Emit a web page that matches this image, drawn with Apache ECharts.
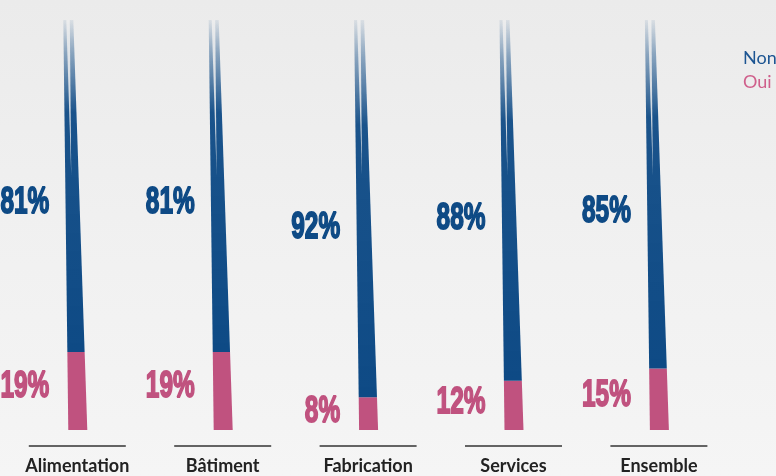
<!DOCTYPE html>
<html>
<head>
<meta charset="utf-8">
<script src="https://cdn.jsdelivr.net/npm/echarts@6/dist/echarts.min.js"></script>
<style>
  html, body { margin: 0; padding: 0; }
  #chart {
    width: 776px; height: 476px;
    background: linear-gradient(to bottom, #ebebeb 0%, #f0f0f0 45%, #f5f5f5 100%);
  }
</style>
</head>
<body>
<div id="chart"></div>
<script>
// Categories and shares (%)
var categories = ['Alimentation', 'Bâtiment', 'Fabrication', 'Services', 'Ensemble'];
var ouiValues = [19, 19, 8, 12, 15];
var nonValues = [81, 81, 92, 88, 85];

var BLUE = '#0e4a85';
var PINK = '#c0527f';
var BG = '#eeeeee';

var chart = echarts.init(document.getElementById('chart'));

// Edges of a brush-stroke bar: wide at the base, narrowing and leaning left toward the top
function leftEdge(c, t) { return c - 9 - 5 * t; }
function rightEdge(c, t) { return c + 10 - 14 * t; }

function strokePoints(api, idx, v0, v1) {
  var p0 = api.coord([idx, v0]);
  var p1 = api.coord([idx, v1]);
  var c = p0[0];
  var t0 = v0 / 100, t1 = v1 / 100;
  return [
    [leftEdge(c, t0), p0[1]],
    [rightEdge(c, t0), p0[1]],
    [rightEdge(c, t1), p1[1]],
    [leftEdge(c, t1), p1[1]]
  ];
}

// Condensed heavy percentage label, right-aligned against the stroke
function pctLabel(x, y, text, color) {
  return {
    type: 'text',
    x: x, y: y,
    scaleX: 0.66,
    style: {
      text: text,
      fill: color,
      stroke: color,
      lineWidth: 1.8,
      font: 'bold 37px "Liberation Sans", Arial, sans-serif',
      textAlign: 'right',
      textVerticalAlign: 'middle'
    }
  };
}

function renderOui(params, api) {
  var idx = api.value(0);
  var oui = api.value(1);
  var base = api.coord([idx, 0]);
  var c = base[0];
  var labelPos = api.coord([idx, oui * 0.55]);
  return {
    type: 'group',
    children: [
      { type: 'polygon', shape: { points: strokePoints(api, idx, 0, oui) }, style: { fill: PINK } },
      pctLabel(c - 28, labelPos[1], oui + '%', PINK),
      { type: 'line', shape: { x1: c - 48.5, y1: base[1] + 16, x2: c + 48.5, y2: base[1] + 16 },
        style: { stroke: '#333333', lineWidth: 1.4 } }
    ]
  };
}

function renderNon(params, api) {
  var idx = api.value(0);
  var non = api.value(1);
  var oui = ouiValues[idx];
  var c = api.coord([idx, 0])[0];
  var labelPos = api.coord([idx, oui + non * 0.45]);
  // split between the two bristle strands in the upper part of the stroke
  var g0 = api.coord([idx, 62]), g1 = api.coord([idx, 100]);
  var gm0 = (leftEdge(c, 0.62) * 0.55 + rightEdge(c, 0.62) * 0.45);
  var gm1 = (leftEdge(c, 1) * 0.55 + rightEdge(c, 1) * 0.45);
  return {
    type: 'group',
    children: [
      {
        type: 'polygon',
        shape: { points: strokePoints(api, idx, oui, oui + non) },
        style: {
          fill: new echarts.graphic.LinearGradient(0, 0, 0, 1, [
            { offset: 0, color: 'rgba(14,74,133,0.08)' },
            { offset: 0.1, color: 'rgba(14,74,133,0.45)' },
            { offset: 0.28, color: 'rgba(14,74,133,0.95)' },
            { offset: 1, color: BLUE }
          ])
        }
      },
      {
        type: 'polygon',
        shape: { points: [[gm0, g0[1]], [gm1 + 2, g1[1]], [gm1 - 1.5, g1[1]]] },
        style: { fill: BG, opacity: 0.85 }
      },
      pctLabel(c - 28, labelPos[1], non + '%', BLUE)
    ]
  };
}

var option = {
  animation: false,
  grid: { left: 4.6, right: 44.4, top: 20, bottom: 46 },
  legend: {
    orient: 'vertical',
    left: 733,
    top: 44,
    itemWidth: 0,
    itemHeight: 0,
    itemGap: 6,
    icon: 'rect',
    selectedMode: false,
    textStyle: { fontFamily: 'Lato', fontSize: 18 },
    data: [
      { name: 'Non', textStyle: { color: '#1d5592' } },
      { name: 'Oui', textStyle: { color: '#cf5f8b' } }
    ]
  },
  xAxis: {
    type: 'category',
    data: categories,
    axisLine: { show: false },
    axisTick: { show: false },
    axisLabel: {
      margin: 27,
      color: '#222222',
      fontFamily: 'Lato',
      fontWeight: 'bold',
      fontSize: 18
    }
  },
  yAxis: { type: 'value', min: 0, max: 100, show: false },
  series: [
    {
      name: 'Oui',
      type: 'custom',
      renderItem: renderOui,
      itemStyle: { color: PINK },
      data: ouiValues.map(function (v, i) { return [i, v]; })
    },
    {
      name: 'Non',
      type: 'custom',
      renderItem: renderNon,
      itemStyle: { color: BLUE },
      data: nonValues.map(function (v, i) { return [i, v]; })
    }
  ]
};

chart.setOption(option);
</script>
</body>
</html>
